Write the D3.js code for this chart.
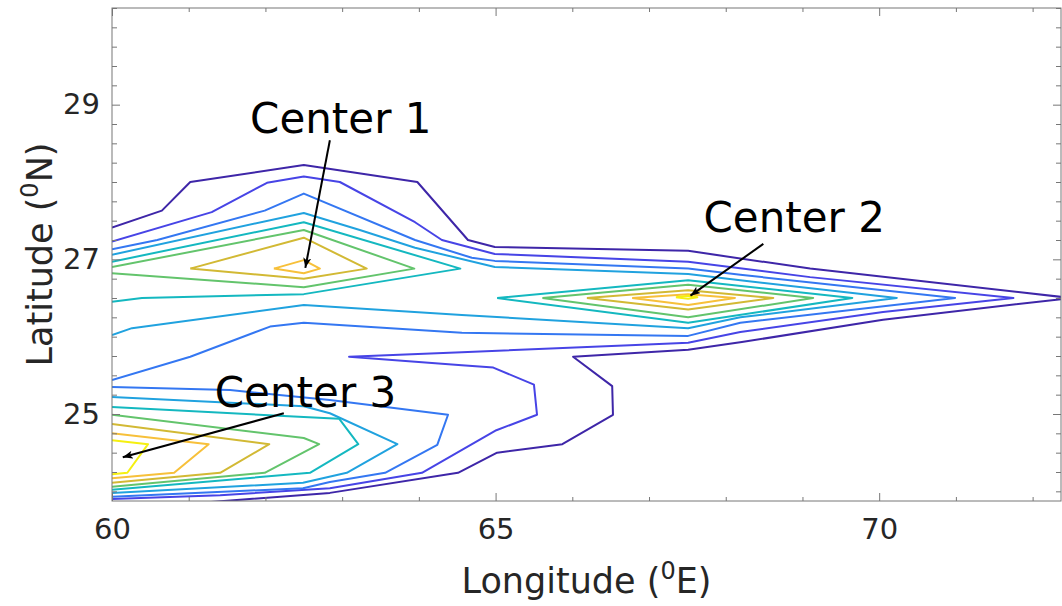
<!DOCTYPE html>
<html>
<head>
<meta charset="utf-8">
<script src="https://cdn.jsdelivr.net/npm/d3@7"></script>
<style>
  body { margin: 0; background: #fff; }
  text { font-family: "DejaVu Sans", sans-serif; }
</style>
</head>
<body>
<div id="chart"></div>
<script>
// contour level colours (parula), outermost level 1 -> innermost level 9
const levelColors = ["#3e26a8", "#4744e6", "#3477f2", "#20a2df", "#14b8c0", "#63c46c", "#d2b934", "#f7c03a", "#f5f010"]

// contour vertices as [longitude, latitude]
const lv1 = [[60.00, 27.41], [60.65, 27.63], [61.02, 28.00], [62.50, 28.22], [63.98, 28.00], [64.64, 27.25], [64.99, 27.16], [67.51, 27.11], [69.10, 26.88], [72.50, 26.50], [70.05, 26.22], [68.21, 25.93], [67.51, 25.83], [66.01, 25.74], [66.52, 25.36], [66.53, 24.99], [65.87, 24.61], [65.02, 24.50], [64.51, 24.24], [62.84, 23.98], [61.00, 23.84]]
const lv2 = [[60.00, 27.23], [61.30, 27.61], [62.02, 27.99], [62.50, 28.07], [62.97, 28.00], [63.95, 27.48], [64.30, 27.25], [64.99, 27.07], [67.51, 26.97], [69.10, 26.77], [71.75, 26.50], [70.05, 26.32], [68.19, 26.06], [67.51, 25.92], [66.75, 25.89], [64.56, 25.80], [63.09, 25.74], [64.56, 25.63], [64.97, 25.60], [65.50, 25.38], [65.54, 24.99], [65.01, 24.79], [64.04, 24.24], [62.84, 24.04], [61.41, 23.95], [60.00, 23.90]]
const lv3Upper = [[60.00, 27.13], [60.59, 27.25], [61.99, 27.63], [62.50, 27.85], [63.95, 27.25], [64.69, 27.02], [64.99, 26.98], [67.51, 26.88], [68.19, 26.80], [70.99, 26.50], [68.19, 26.18], [67.51, 26.01], [64.56, 26.05], [62.50, 26.18], [62.06, 26.13], [61.02, 25.74], [60.00, 25.44]]
const lv3Lower = [[60.00, 25.35], [61.54, 25.31], [62.84, 25.18], [64.38, 24.99], [64.24, 24.60], [63.56, 24.24], [62.84, 24.12], [62.49, 24.04], [60.00, 23.93]]
const lv4Upper = [[60.00, 27.06], [62.50, 27.60], [63.23, 27.38], [63.95, 27.15], [64.99, 26.90], [67.51, 26.81], [68.19, 26.73], [70.23, 26.50], [68.19, 26.25], [67.51, 26.11], [64.56, 26.28], [62.50, 26.41], [60.26, 26.11], [60.00, 26.02]]
const lv4Lower = [[60.00, 25.22], [62.50, 25.10], [62.84, 25.01], [63.72, 24.61], [63.06, 24.24], [62.49, 24.11], [60.00, 23.98]]
const lv5C1 = [[60.00, 26.97], [62.50, 27.48], [64.54, 26.88], [62.50, 26.55], [60.39, 26.50], [60.00, 26.45]]
const lv5C2 = [[65.02, 26.50], [67.51, 26.73], [69.65, 26.50], [67.51, 26.18], [65.02, 26.50]]
const lv5C3 = [[60.00, 25.09], [62.50, 24.96], [62.96, 24.94], [63.21, 24.61], [62.58, 24.24], [60.00, 24.02]]
const lv6C1 = [[60.00, 26.90], [62.50, 27.38], [63.94, 26.88], [62.50, 26.64], [60.00, 26.82]]
const lv6C2 = [[65.61, 26.50], [67.51, 26.67], [69.14, 26.50], [67.51, 26.25], [65.61, 26.50]]
const lv6C3 = [[60.00, 24.99], [62.50, 24.69], [62.70, 24.61], [61.99, 24.24], [60.00, 24.06]]
const lv7C1 = [[61.02, 26.88], [62.50, 27.28], [63.32, 26.88], [62.50, 26.75], [61.02, 26.88]]
const lv7C2 = [[66.19, 26.50], [67.51, 26.60], [68.62, 26.50], [67.51, 26.35], [66.19, 26.50]]
const lv7C3 = [[60.00, 24.87], [62.05, 24.61], [61.41, 24.24], [60.00, 24.11]]
const lv8C1 = [[62.11, 26.88], [62.50, 26.99], [62.71, 26.88], [62.50, 26.82], [62.11, 26.88]]
const lv8C2 = [[66.78, 26.50], [67.51, 26.55], [68.12, 26.50], [67.51, 26.41], [66.78, 26.50]]
const lv8C3 = [[60.00, 24.75], [61.26, 24.61], [60.81, 24.24], [60.00, 24.17]]
const lv9C2 = [[67.35, 26.51], [67.51, 26.53], [67.63, 26.51], [67.51, 26.49], [67.35, 26.51]]
const lv9C3 = [[60.00, 24.66], [60.47, 24.61], [60.20, 24.24], [60.00, 24.22]]

const xMajorTicks = [60, 65, 70]
const yMajorTicks = [25, 27, 29]

const centerLabels = ["Center 1", "Center 2", "Center 3"]
// label anchor, arrow tail, arrow head (lon, lat)
const labelAt = [[61.80, 28.64], [67.71, 27.35], [61.34, 25.09]]
const arrowFrom = [[62.84, 28.54], [68.49, 27.20], [62.24, 25.01]]
const arrowTo = [[62.52, 26.89], [67.54, 26.53], [60.14, 24.44]]

const contours = [
  { level: 0, points: lv1 },
  { level: 1, points: lv2 },
  { level: 2, points: lv3Upper },
  { level: 2, points: lv3Lower },
  { level: 3, points: lv4Upper },
  { level: 3, points: lv4Lower },
  { level: 4, points: lv5C1 },
  { level: 4, points: lv5C2 },
  { level: 4, points: lv5C3 },
  { level: 5, points: lv6C1 },
  { level: 5, points: lv6C2 },
  { level: 5, points: lv6C3 },
  { level: 6, points: lv7C1 },
  { level: 6, points: lv7C2 },
  { level: 6, points: lv7C3 },
  { level: 7, points: lv8C1 },
  { level: 7, points: lv8C2 },
  { level: 7, points: lv8C3 },
  { level: 8, points: lv9C2 },
  { level: 8, points: lv9C3 },
]

const dimensions = {
  width: 1062,
  height: 606,
  margin: { top: 8, left: 112, bottom: 105, right: 1 },
}
dimensions.ctrWidth = dimensions.width - dimensions.margin.left - dimensions.margin.right
dimensions.ctrHeight = dimensions.height - dimensions.margin.top - dimensions.margin.bottom

const xScale = d3.scaleLinear().domain([60, 72.37]).range([0, dimensions.ctrWidth])
const yScale = d3.scaleLinear().domain([23.875, 30.25]).range([dimensions.ctrHeight, 0])

const svg = d3.select("#chart")
  .append("svg")
  .attr("width", dimensions.width)
  .attr("height", dimensions.height)

svg.append("defs").append("clipPath").attr("id", "plot-clip")
  .append("rect")
  .attr("width", dimensions.ctrWidth)
  .attr("height", dimensions.ctrHeight)

svg.select("defs").append("marker")
  .attr("id", "arrowhead")
  .attr("viewBox", "0 0 10 8")
  .attr("refX", 10)
  .attr("refY", 4)
  .attr("markerWidth", 10)
  .attr("markerHeight", 8)
  .attr("markerUnits", "userSpaceOnUse")
  .attr("orient", "auto")
  .append("path")
  .attr("d", "M0,0 L10,4 L0,8 L2.5,4 Z")
  .attr("fill", "#000")

const ctr = svg.append("g")
  .attr("transform", `translate(${dimensions.margin.left}, ${dimensions.margin.top})`)

// contour lines
const line = d3.line().x(d => xScale(d[0])).y(d => yScale(d[1]))

ctr.append("g")
  .attr("clip-path", "url(#plot-clip)")
  .selectAll("path")
  .data(contours)
  .join("path")
  .attr("d", d => line(d.points))
  .attr("fill", "none")
  .attr("stroke", d => levelColors[d.level])
  .attr("stroke-width", 2)
  .attr("stroke-linejoin", "round")

// axes: ticks inside on all four sides
const axisColor = "#777"
const xMinor = d3.range(61, 73, 1).filter(v => !xMajorTicks.includes(v))
const yMinor = d3.range(24, 30.26, 0.25).filter(v => !yMajorTicks.includes(v))

const styleAxis = g => {
  g.select(".domain").remove()
  g.selectAll("line").attr("stroke", axisColor)
  g.selectAll("text").attr("fill", "#262626").style("font-size", "29px")
}

ctr.append("g")
  .attr("transform", `translate(0, ${dimensions.ctrHeight})`)
  .call(d3.axisBottom(xScale).tickValues(xMajorTicks).tickSize(-8).tickPadding(17).tickFormat(d3.format("d")))
  .call(styleAxis)
ctr.append("g")
  .attr("transform", `translate(0, ${dimensions.ctrHeight})`)
  .call(d3.axisBottom(xScale).tickValues(xMinor).tickSize(-4).tickFormat(""))
  .call(styleAxis)
ctr.append("g")
  .call(d3.axisTop(xScale).tickValues(xMajorTicks).tickSize(-8).tickFormat(""))
  .call(styleAxis)
ctr.append("g")
  .call(d3.axisTop(xScale).tickValues(xMinor).tickSize(-4).tickFormat(""))
  .call(styleAxis)

ctr.append("g")
  .call(d3.axisLeft(yScale).tickValues(yMajorTicks).tickSize(-8).tickPadding(12).tickFormat(d3.format("d")))
  .call(styleAxis)
ctr.append("g")
  .call(d3.axisLeft(yScale).tickValues(yMinor).tickSize(-5).tickFormat(""))
  .call(styleAxis)
ctr.append("g")
  .attr("transform", `translate(${dimensions.ctrWidth}, 0)`)
  .call(d3.axisRight(yScale).tickValues(yMajorTicks).tickSize(-8).tickFormat(""))
  .call(styleAxis)
ctr.append("g")
  .attr("transform", `translate(${dimensions.ctrWidth}, 0)`)
  .call(d3.axisRight(yScale).tickValues(yMinor).tickSize(-5).tickFormat(""))
  .call(styleAxis)

ctr.append("rect")
  .attr("width", dimensions.ctrWidth)
  .attr("height", dimensions.ctrHeight)
  .attr("fill", "none")
  .attr("stroke", axisColor)
  .attr("stroke-width", 1)

// axis labels
const xLabel = ctr.append("text")
  .attr("x", dimensions.ctrWidth / 2)
  .attr("y", dimensions.ctrHeight + 92)
  .attr("text-anchor", "middle")
  .attr("fill", "#262626")
  .style("font-size", "35px")
xLabel.append("tspan").text("Longitude (")
xLabel.append("tspan").attr("dy", -14).style("font-size", "24px").text("0")
xLabel.append("tspan").attr("dy", 14).text("E)")

const yLabel = ctr.append("text")
  .attr("transform", `translate(${52 - dimensions.margin.left}, ${dimensions.ctrHeight / 2}) rotate(-90)`)
  .attr("text-anchor", "middle")
  .attr("fill", "#262626")
  .style("font-size", "35px")
yLabel.append("tspan").text("Latitude (")
yLabel.append("tspan").attr("dy", -14).style("font-size", "24px").text("0")
yLabel.append("tspan").attr("dy", 14).text("N)")

// annotations
const notes = ctr.append("g")
notes.selectAll("line")
  .data(centerLabels)
  .join("line")
  .attr("x1", (d, i) => xScale(arrowFrom[i][0]))
  .attr("y1", (d, i) => yScale(arrowFrom[i][1]))
  .attr("x2", (d, i) => xScale(arrowTo[i][0]))
  .attr("y2", (d, i) => yScale(arrowTo[i][1]))
  .attr("stroke", "#000")
  .attr("stroke-width", 2)
  .attr("marker-end", "url(#arrowhead)")

notes.selectAll("text")
  .data(centerLabels)
  .join("text")
  .attr("x", (d, i) => xScale(labelAt[i][0]))
  .attr("y", (d, i) => yScale(labelAt[i][1]))
  .attr("fill", "#000")
  .style("font-size", "42px")
  .text(d => d)
</script>
</body>
</html>
